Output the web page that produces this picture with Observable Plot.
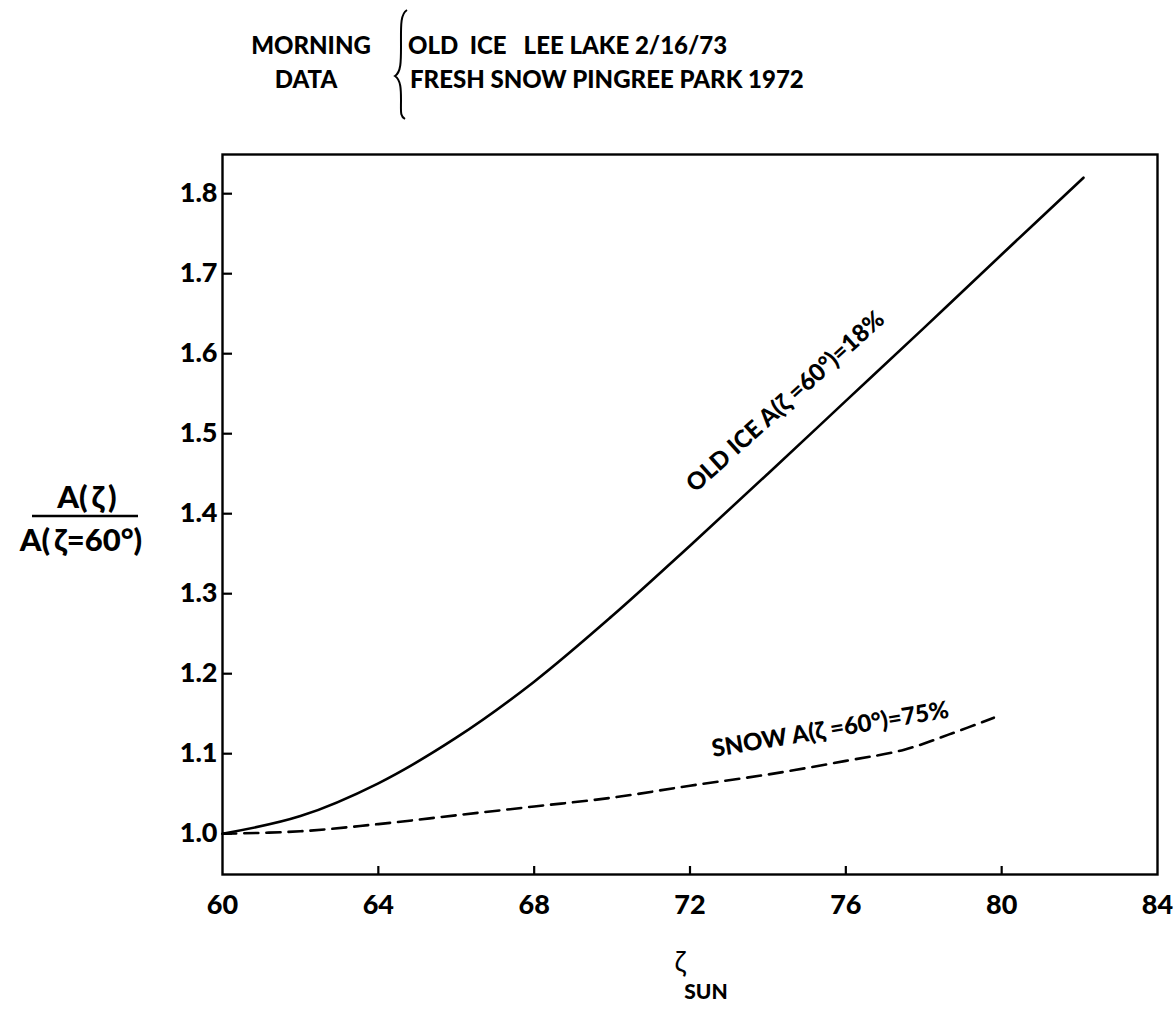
<!DOCTYPE html>
<html>
<head>
<meta charset="utf-8">
<script src="https://cdn.jsdelivr.net/npm/d3@7"></script>
<script src="https://cdn.jsdelivr.net/npm/@observablehq/plot@0.6"></script>
<style>
  html, body { margin: 0; padding: 0; background: #fff; }
  #wrap { position: relative; width: 1174px; height: 1009px; overflow: hidden; }
  #overlay { position: absolute; left: 0; top: 0; pointer-events: none; }
  #overlay text { font-family: Lato, "Open Sans", "DejaVu Sans", sans-serif; font-weight: 900; fill: #000; }
</style>
</head>
<body>
<div id="wrap"></div>
<script>
// ---- data ----
const oldIceZenith = [60, 62, 64, 66, 68, 70, 72, 74, 76, 78, 80, 82.1];
const oldIceRatio  = [1.000, 1.022, 1.063, 1.120, 1.190, 1.272, 1.360, 1.450, 1.541, 1.632, 1.724, 1.820];
const snowZenith = [60, 62, 64, 66, 68, 70, 72, 74, 76, 77.5, 78.7, 79.8];
const snowRatio  = [1.000, 1.003, 1.012, 1.023, 1.034, 1.045, 1.060, 1.074, 1.091, 1.105, 1.125, 1.145];
const xTicks = [60, 64, 68, 72, 76, 80, 84];
const yTicks = [1.0, 1.1, 1.2, 1.3, 1.4, 1.5, 1.6, 1.7, 1.8];
const curveLabels = ["OLD ICE A(\u03B6 =60\u00B0)=18%", "SNOW A(\u03B6 =60\u00B0)=75%"];
const curveLabelX = [74.45, 75.6];
const curveLabelY = [1.54, 1.13];
const curveLabelAngle = [-42, -9.5];
const headerLeft = ["MORNING", "DATA"];
const headerRight = ["OLD  ICE   LEE LAKE 2/16/73", "FRESH SNOW PINGREE PARK 1972"];

const oldIce = oldIceZenith.map((z, i) => ({z, r: oldIceRatio[i]}));
const snow = snowZenith.map((z, i) => ({z, r: snowRatio[i]}));
const labels = curveLabels.map((t, i) => ({t, z: curveLabelX[i], r: curveLabelY[i], a: curveLabelAngle[i]}));

const font = 'Lato, "Open Sans", "DejaVu Sans", sans-serif';

const chart = Plot.plot({
  width: 1174,
  height: 1009,
  marginTop: 154,
  marginLeft: 222,
  marginRight: 17,
  marginBottom: 135,
  style: {fontFamily: font, background: "#fff", color: "#000"},
  x: {domain: [60, 84], label: null},
  y: {domain: [0.949, 1.849], label: null},
  marks: [
    Plot.frame({stroke: "#000", strokeWidth: 2.4}),
    Plot.axisX({ticks: xTicks, tickSize: 0, tickPadding: 20, fontSize: 27, fontWeight: 900, tickFormat: d => String(d), label: null}),
    // inward ticks: top-style ticks drawn on the bottom edge
    Plot.axisX({ticks: xTicks.slice(1, -1), anchor: "top", frameAnchor: "bottom", tickSize: 9, strokeWidth: 2.2, fill: "none", label: null}),
    Plot.axisY({ticks: yTicks, tickSize: 0, tickPadding: 5, fontSize: 27, fontWeight: 900, tickFormat: d3.format(".1f"), label: null}),
    // inward ticks: right-style ticks drawn on the left edge
    Plot.axisY({ticks: yTicks, anchor: "right", frameAnchor: "left", tickSize: 9, strokeWidth: 2.2, fill: "none", label: null}),
    Plot.line(oldIce, {x: "z", y: "r", curve: "catmull-rom", stroke: "#000", strokeWidth: 2.6}),
    Plot.line(snow, {x: "z", y: "r", curve: "catmull-rom", stroke: "#000", strokeWidth: 2.6, strokeDasharray: "14,8"}),
    Plot.text(labels, {x: "z", y: "r", text: "t", rotate: "a", fontSize: 24, fontWeight: 900, fill: "#000", textAnchor: "middle"})
  ]
});

const wrap = document.getElementById("wrap");
wrap.appendChild(chart);

// ---- header, axis titles (outside the plot frame) ----
const ns = "http://www.w3.org/2000/svg";
const ov = document.createElementNS(ns, "svg");
ov.setAttribute("id", "overlay");
ov.setAttribute("width", 1174);
ov.setAttribute("height", 1009);
function addText(str, x, y, size, anchor) {
  const t = document.createElementNS(ns, "text");
  t.setAttribute("x", x);
  t.setAttribute("y", y);
  t.setAttribute("font-size", size);
  t.setAttribute("text-anchor", anchor || "start");
  t.setAttribute("xml:space", "preserve");
  t.style.whiteSpace = "pre";
  t.textContent = str;
  ov.appendChild(t);
  return t;
}
addText(headerLeft[0], 311, 54, 24, "middle");
addText(headerLeft[1], 306, 88, 24, "middle");
addText(headerRight[0], 408, 54, 24, "start");
addText(headerRight[1], 410, 88, 24, "start");
// brace
const brace = document.createElementNS(ns, "path");
brace.setAttribute("d", "M407,10 C400,14 401,28 401,46 C401,62 401,72 395,76 C401,80 401,90 401,100 C401,112 400,116 405,119");
brace.setAttribute("fill", "none");
brace.setAttribute("stroke", "#000");
brace.setAttribute("stroke-width", "2");
ov.appendChild(brace);

// y-axis title as a fraction
addText("A(\u2009\u03B6\u2009)", 87, 508, 31, "middle");
const bar = document.createElementNS(ns, "line");
bar.setAttribute("x1", 32); bar.setAttribute("x2", 138);
bar.setAttribute("y1", 516); bar.setAttribute("y2", 516);
bar.setAttribute("stroke", "#000"); bar.setAttribute("stroke-width", "2.5");
ov.appendChild(bar);
addText("A(\u2009\u03B6=60\u00B0)", 81, 551, 31, "middle");

// x-axis title
const z = addText("\u03B6", 680, 972, 28, "middle");
z.style.fontWeight = "400";
addText("SUN", 706, 999, 21, "middle");

wrap.appendChild(ov);
</script>
</body>
</html>
